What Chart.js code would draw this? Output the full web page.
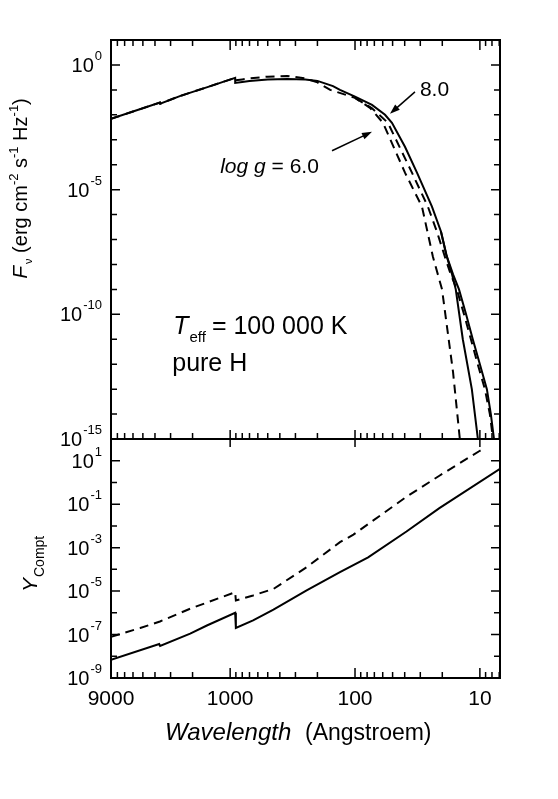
<!DOCTYPE html>
<html>
<head>
    <title>Fnu and Y_Compt - Teff 100 000 K</title>
    <script src="https://cdn.jsdelivr.net/npm/chart.js"></script>
    <style>
        body { margin: 0; background: #fff; }
        #wrap { position: relative; width: 558px; height: 799px; }
        #wrap canvas { position: absolute; left: 0; top: 0; }
    </style>
</head>
<body>
    <div id="wrap">
        <canvas id="fluxChart" width="558" height="799"></canvas>
        <canvas id="comptChart" width="558" height="799"></canvas>
    </div>

    <script>
        const FONT = '"Liberation Sans", Arial, Helvetica, sans-serif';

        // Wavelength axis (Angstroem), reversed
        const waveMin = 6.9;
        const waveMax = 9000;
        const waveTickLabels = [9000, 1000, 100, 10];

        // Top panel: F_nu, labelled exponents
        const fluxMin = 1e-15;
        const fluxMax = 10;
        const fluxTickExps = [0, -5, -10, -15];

        // Bottom panel: Y_Compt, labelled exponents
        const comptMin = 1e-9;
        const comptMax = 100;
        const comptTickExps = [1, -1, -3, -5, -7, -9];

        // log g = 8.0 (solid)
        const waveG8 = [9000, 6000, 3650, 3630, 2500, 1500, 912, 911, 800, 700, 500, 350, 250, 200, 150, 132, 100, 73.1, 57.5, 50.6, 39.8, 31.9, 24.2, 20.5, 18.4, 16.7, 15.6, 13.7, 11.6, 10.4, 10.0];
        const fluxG8 = [6.9e-3, 1.35e-2, 3.1e-2, 2.8e-2, 5.75e-2, 0.132, 0.302, 0.19, 0.209, 0.229, 0.263, 0.275, 0.263, 0.229, 0.141, 0.1, 0.0537, 0.0251, 0.01, 4.79e-3, 5.25e-4, 4.79e-5, 2.09e-6, 2.09e-7, 2.09e-8, 3.98e-9, 1e-9, 1e-11, 1e-13, 1.1e-15, 1.6e-16];
        const waveG8b = [20.5, 18.6, 16.4, 14.7, 12.9, 11.4, 10.0, 8.79, 8.17, 7.73, 7.45];
        const fluxG8b = [2.09e-7, 2.5e-8, 3.98e-9, 1e-9, 1e-10, 1e-11, 1e-12, 1e-13, 1e-14, 1.1e-15, 1.6e-16];

        // log g = 6.0 (dashed)
        const waveG6 = [9000, 6000, 3650, 3630, 2500, 1500, 912, 911, 800, 700, 500, 350, 250, 200, 158, 100, 75.9, 59.7, 39.8, 29.1, 23.8, 20.1, 16.4, 14.5, 14.2];
        const fluxG6 = [6.9e-3, 1.35e-2, 3.1e-2, 2.8e-2, 5.75e-2, 0.132, 0.302, 0.24, 0.263, 0.288, 0.339, 0.363, 0.288, 0.2, 0.1, 0.0479, 0.0191, 4.79e-3, 4.79e-5, 2.09e-6, 2.09e-8, 1e-9, 4.79e-13, 1.1e-15, 1.6e-16];
        const waveG6b = [100, 73.1, 54.5, 35.0, 26.1, 22.1, 19.1, 17.1, 15.3, 13.4, 11.8, 10.4, 9.12, 8.32, 7.87, 7.59];
        const fluxG6b = [0.0479, 0.0182, 4.79e-3, 4.79e-5, 2.09e-6, 2.09e-7, 2.09e-8, 3.98e-9, 1e-9, 1e-10, 1e-11, 1e-12, 1e-13, 1e-14, 1.1e-15, 1.6e-16];

        // Compton parameter
        const waveComptG8 = [9000, 3700, 3640, 2090, 1536, 912, 900, 655, 450, 244, 132, 78.5, 38.7, 21.1, 6.9];
        const comptG8 = [6.8e-9, 3.7e-8, 3.0e-8, 1.1e-7, 2.6e-7, 1.0e-6, 2.0e-7, 4.5e-7, 1.4e-6, 1.07e-5, 7.4e-5, 3.6e-4, 5.5e-3, 0.066, 4.2];
        const waveComptG6 = [9000, 5250, 3650, 2090, 930, 912, 900, 655, 450, 244, 132, 103, 38.7, 21.1, 10, 9.4];
        const comptG6 = [7.9e-8, 2.0e-7, 4.0e-7, 1.55e-6, 8.5e-6, 8.9e-6, 3.7e-6, 6.3e-6, 1.26e-5, 1.26e-4, 1.78e-3, 3.98e-3, 0.219, 2.04, 28.8, 34.7];

        function series(xs, ys, dashed) {
            return {
                data: xs.map((x, i) => ({ x: x, y: ys[i] })),
                borderColor: '#000',
                borderWidth: 2,
                borderDash: dashed ? [9, 6] : [],
                pointRadius: 0,
                tension: 0,
                fill: false
            };
        }

        // draw a row of text pieces (italic, sub/superscripts)
        function drawRuns(ctx, runs, x, y) {
            let cx = x;
            runs.forEach(r => {
                ctx.font = (r.italic ? 'italic ' : '') + r.size + 'px ' + FONT;
                ctx.fillText(r.t, cx, y + (r.dy || 0));
                cx += ctx.measureText(r.t).width + (r.gap || 0);
            });
            return cx - x;
        }

        function runsWidth(ctx, runs) {
            let w = 0;
            runs.forEach(r => {
                ctx.font = (r.italic ? 'italic ' : '') + r.size + 'px ' + FONT;
                w += ctx.measureText(r.t).width + (r.gap || 0);
            });
            return w;
        }

        function drawPow(ctx, exp, xRight, yMid) {
            const runs = [{ t: '10', size: 20, gap: 1 }, { t: String(exp), size: 13, dy: -12 }];
            const w = runsWidth(ctx, runs);
            drawRuns(ctx, runs, xRight - w, yMid + 7);
        }

        function arrow(ctx, x0, y0, x1, y1) {
            const a = Math.atan2(y1 - y0, x1 - x0);
            const c = Math.cos(a), s = Math.sin(a);
            ctx.lineWidth = 1.5;
            ctx.beginPath();
            ctx.moveTo(x0, y0);
            ctx.lineTo(x1 - 6 * c, y1 - 6 * s);
            ctx.stroke();
            ctx.beginPath();
            ctx.moveTo(x1, y1);
            ctx.lineTo(x1 - 10 * c + 3.5 * s, y1 - 10 * s - 3.5 * c);
            ctx.lineTo(x1 - 10 * c - 3.5 * s, y1 - 10 * s + 3.5 * c);
            ctx.closePath();
            ctx.fill();
        }

        // frame, inward ticks, tick labels and texts
        function framePlugin(cfg) {
            return {
                id: 'frame',
                afterDraw(chart) {
                    const ctx = chart.ctx;
                    const a = chart.chartArea;
                    const xs = chart.scales.x, ys = chart.scales.y;
                    ctx.save();
                    ctx.strokeStyle = '#000';
                    ctx.fillStyle = '#000';

                    ctx.lineWidth = 1.5;
                    ctx.beginPath();
                    for (let d = 1; d <= 1000; d *= 10) {
                        for (let m = 1; m <= 9; m++) {
                            const v = m * d;
                            if (v < xs.min || v > xs.max) continue;
                            const px = xs.getPixelForValue(v);
                            cfg.xEdges.forEach(e => {
                                const len = m === 1 ? e.major : e.minor;
                                if (!len) return;
                                const y0 = e.side === 'top' ? a.top : a.bottom;
                                ctx.moveTo(px, y0);
                                ctx.lineTo(px, y0 + (e.side === 'top' ? len : -len));
                            });
                        }
                    }
                    const e0 = Math.round(Math.log10(ys.min)), e1 = Math.round(Math.log10(ys.max));
                    for (let e = e0 + 1; e < e1; e++) {
                        const py = ys.getPixelForValue(Math.pow(10, e));
                        const len = cfg.yExps.includes(e) ? 9 : 6;
                        ctx.moveTo(a.left, py); ctx.lineTo(a.left + len, py);
                        ctx.moveTo(a.right, py); ctx.lineTo(a.right - len, py);
                    }
                    ctx.stroke();

                    ctx.lineWidth = 2;
                    ctx.strokeRect(a.left, a.top, a.right - a.left, a.bottom - a.top);

                    ctx.textBaseline = 'alphabetic';
                    ctx.textAlign = 'left';
                    cfg.yExps.forEach(e => {
                        drawPow(ctx, e, a.left - 9, ys.getPixelForValue(Math.pow(10, e)));
                    });

                    if (cfg.xLabels) {
                        ctx.font = '21px ' + FONT;
                        ctx.textAlign = 'center';
                        waveTickLabels.forEach(v => {
                            ctx.fillText(String(v), xs.getPixelForValue(v), a.bottom + 27);
                        });
                        ctx.textAlign = 'left';
                    }

                    if (cfg.annotate) cfg.annotate(chart, ctx, a, xs, ys);
                    ctx.restore();
                }
            };
        }

        function makeChart(id, datasets, yMin, yMax, padding, cfg) {
            const ctx = document.getElementById(id).getContext('2d');
            return new Chart(ctx, {
                type: 'line',
                data: { datasets: datasets },
                options: {
                    responsive: false,
                    animation: false,
                    layout: { padding: padding },
                    plugins: { legend: { display: false }, tooltip: { enabled: false } },
                    scales: {
                        x: { type: 'logarithmic', reverse: true, min: waveMin, max: waveMax, bounds: 'data', display: false },
                        y: { type: 'logarithmic', min: yMin, max: yMax, bounds: 'data', display: false }
                    }
                },
                plugins: [framePlugin(cfg)]
            });
        }

        // top panel
        makeChart('fluxChart', [
            series(waveG8, fluxG8, false),
            series(waveG8b, fluxG8b, false),
            series(waveG6, fluxG6, true),
            series(waveG6b, fluxG6b, true)
        ], fluxMin, fluxMax, { left: 111, right: 58, top: 40, bottom: 360 }, {
            yExps: fluxTickExps,
            xEdges: [{ side: 'top', major: 10, minor: 6 }, { side: 'bottom', major: 9, minor: 6 }],
            xLabels: false,
            annotate(chart, ctx, a, xs, ys) {
                const P = (w, f) => [xs.getPixelForValue(w), ys.getPixelForValue(f)];
                let p, q;
                // 8.0
                p = P(30.2, 0.0575);
                drawRuns(ctx, [{ t: '8.0', size: 21 }], p[0], p[1]);
                p = P(33.1, 0.0832); q = P(52.5, 0.011);
                arrow(ctx, p[0], p[1], q[0], q[1]);
                // log g = 6.0
                p = P(1202, 4.79e-5);
                drawRuns(ctx, [{ t: 'log g', size: 21, italic: true }, { t: ' = 6.0', size: 21 }], p[0], p[1]);
                p = P(152.8, 3.63e-4); q = P(73.1, 2.09e-3);
                arrow(ctx, p[0], p[1], q[0], q[1]);
                // Teff, pure H
                p = P(2858, 1.58e-11);
                drawRuns(ctx, [
                    { t: 'T', size: 25, italic: true, gap: 1 },
                    { t: 'eff', size: 15, dy: 8, gap: 6 },
                    { t: '= 100 000 K', size: 25 }
                ], p[0], p[1]);
                p = P(2910, 5.25e-13);
                drawRuns(ctx, [{ t: 'pure H', size: 25 }], p[0], p[1]);

                // axis title, rotated
                const runs = [
                    { t: 'F', size: 21, italic: true, gap: 2 },
                    { t: '\u03bd', size: 11, dy: 5 },
                    { t: ' (erg cm', size: 20 },
                    { t: '-2', size: 13, dy: -9 },
                    { t: ' s', size: 20 },
                    { t: '-1', size: 13, dy: -9 },
                    { t: ' Hz', size: 20 },
                    { t: '-1', size: 13, dy: -9 },
                    { t: ')', size: 20 }
                ];
                const w = runsWidth(ctx, runs);
                ctx.save();
                ctx.translate(27, (a.top + a.bottom) / 2 - 51);
                ctx.rotate(-Math.PI / 2);
                drawRuns(ctx, runs, -w / 2, 0);
                ctx.restore();
            }
        });

        // bottom panel
        makeChart('comptChart', [
            series(waveComptG8, comptG8, false),
            series(waveComptG6, comptG6, true)
        ], comptMin, comptMax, { left: 111, right: 58, top: 439, bottom: 121 }, {
            yExps: comptTickExps,
            xEdges: [{ side: 'top', major: 8, minor: 0 }, { side: 'bottom', major: 10, minor: 6 }],
            xLabels: true,
            annotate(chart, ctx, a, xs, ys) {
                ctx.save();
                ctx.translate(37, a.top + 153);
                ctx.rotate(-Math.PI / 2);
                drawRuns(ctx, [{ t: 'Y', size: 21, italic: true, gap: 1 }, { t: 'Compt', size: 14, dy: 7 }], 0, 0);
                ctx.restore();

                // x title
                drawRuns(ctx, [{ t: 'Wavelength', size: 24, italic: true }], 165, a.bottom + 62);
                drawRuns(ctx, [{ t: '(Angstroem)', size: 23 }], 305, a.bottom + 62);
            }
        });
    </script>
</body>
</html>
